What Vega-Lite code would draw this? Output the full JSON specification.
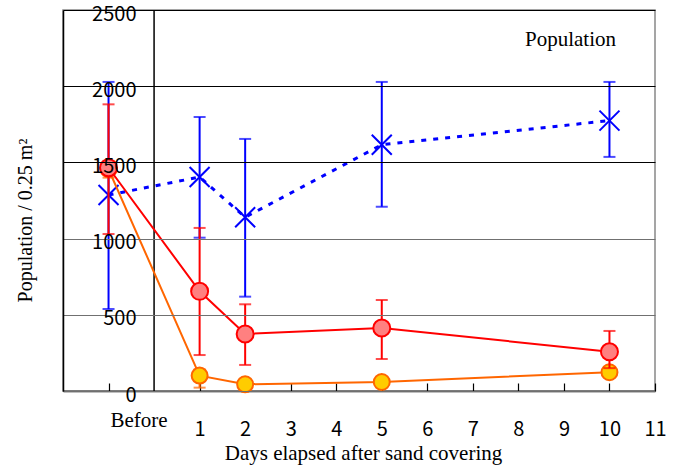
{
  "$schema": "https://vega.github.io/schema/vega-lite/v6.json",
  "width": 592,
  "height": 381,
  "autosize": {"type": "none"},
  "padding": {"left": 63, "top": 10, "right": 26, "bottom": 79},
  "background": "white",
  "config": {"view": {"stroke": "#888", "strokeWidth": 1.5}},
  "title": {"text": "Population", "anchor": "end", "frame": "group", "orient": "top", "offset": -36, "baseline": "alphabetic", "dx": -39, "dy": 27, "font": "Liberation Serif", "fontSize": 21, "fontWeight": "normal", "color": "black"},
  "data": {"values": [
    {"s": "B", "x": -1, "y": 1286, "lo": 538, "hi": 2028},
    {"s": "B", "x": 1, "y": 1404, "lo": 1006, "hi": 1798},
    {"s": "B", "x": 2, "y": 1140, "lo": 619, "hi": 1654},
    {"s": "B", "x": 5, "y": 1616, "lo": 1209, "hi": 2028},
    {"s": "B", "x": 10, "y": 1774, "lo": 1536, "hi": 2028},
    {"s": "R", "x": -1, "y": 1465, "lo": 1030, "hi": 1881},
    {"s": "R", "x": 1, "y": 654, "lo": 236, "hi": 1070},
    {"s": "R", "x": 2, "y": 374, "lo": 171, "hi": 569},
    {"s": "R", "x": 5, "y": 413, "lo": 210, "hi": 597},
    {"s": "R", "x": 10, "y": 258, "lo": 150, "hi": 394},
    {"s": "O", "x": -1, "y": 1455, "lo": 1400, "hi": 1510},
    {"s": "O", "x": 1, "y": 101, "lo": 22, "hi": 142},
    {"s": "O", "x": 2, "y": 44, "lo": 20, "hi": 68},
    {"s": "O", "x": 5, "y": 59, "lo": 35, "hi": 83},
    {"s": "O", "x": 10, "y": 123, "lo": 100, "hi": 146}
  ]},
  "layer": [
    {
      "mark": {"type": "rule", "color": "black", "strokeWidth": 1.5},
      "data": {"values": [{"a": 1}]},
      "encoding": {"x": {"datum": 0, "type": "quantitative", "scale": {"domain": [-2, 11], "nice": false, "zero": false}}}
    },
    {
      "transform": [{"filter": "datum.s=='B'"}],
      "mark": {"type": "rule", "color": "#0000FF", "strokeWidth": 2},
      "encoding": {
        "x": {"field": "x", "type": "quantitative"},
        "y": {"field": "lo", "type": "quantitative"},
        "y2": {"field": "hi"}
      }
    },
    {
      "transform": [{"filter": "datum.s=='B'"}, {"fold": ["lo", "hi"], "as": ["k", "v"]}],
      "mark": {"type": "tick", "orient": "horizontal", "color": "#0000FF", "size": 12, "thickness": 2},
      "encoding": {
        "x": {"field": "x", "type": "quantitative"},
        "y": {"field": "v", "type": "quantitative"}
      }
    },
    {
      "transform": [{"filter": "datum.s=='B'"}],
      "mark": {"type": "line", "color": "#0000FF", "strokeWidth": 3, "strokeDash": [5, 7]},
      "encoding": {
        "x": {"field": "x", "type": "quantitative",
          "axis": {
            "title": "Days elapsed after sand covering", "titleFont": "Liberation Serif", "titleFontSize": 21, "titleFontWeight": "normal", "titleColor": "black",
            "titleX": 300, "titleY": 62, "titleBaseline": "middle", "titleAlign": "center",
            "values": [-1, 1, 2, 3, 4, 5, 6, 7, 8, 9, 10, 11],
            "labelExpr": "datum.value==-1?'Before':datum.label",
            "grid": false, "ticks": true, "tickSize": -8, "tickColor": "black", "tickWidth": 1.2,
            "domainColor": "black", "domainWidth": 1.5,
            "labelFont": {"condition": {"test": "datum.value==-1", "value": "Liberation Serif"}, "value": "Noto Sans CJK JP"},
            "labelFontSize": {"condition": {"test": "datum.value==-1", "value": 21}, "value": 20},
            "labelOffset": {"condition": {"test": "datum.value==-1", "value": 30}, "value": 0},
            "labelPadding": {"condition": {"test": "datum.value==-1", "value": 37}, "value": 46},
            "labelBaseline": "middle", "labelFlush": false, "labelOverlap": false, "labelColor": "black"
          }},
        "y": {"field": "y", "type": "quantitative", "scale": {"domain": [0, 2500], "nice": false},
          "axis": {
            "title": "Population / 0.25 m²", "titleFont": "Liberation Serif", "titleFontSize": 20, "titleFontWeight": "normal", "titleColor": "black",
            "titleX": -38, "titleY": 210, "titleAngle": -90, "titleBaseline": "middle", "titleAlign": "center",
            "values": [0, 500, 1000, 1500, 2000, 2500], "format": "d", "ticks": false, "labelPadding": -73,
            "labelFont": "Noto Sans CJK JP", "labelFontSize": 20, "labelColor": "black", "labelOffset": 4, "labelBaseline": "middle",
            "domainColor": "black", "domainWidth": 1.5, "grid": true,
            "gridColor": {"condition": {"test": "datum.value>=1500", "value": "black"}, "value": "#707070"},
            "gridWidth": 1.2, "zindex": 1, "labelFlush": false, "labelOverlap": false
          }}
      }
    },
    {
      "transform": [{"filter": "datum.s=='B'"}],
      "mark": {"type": "point", "shape": "M-1,-1L1,1M1,-1L-1,1", "size": 400, "filled": false, "stroke": "#0000FF", "strokeWidth": 2, "opacity": 1},
      "encoding": {
        "x": {"field": "x", "type": "quantitative"},
        "y": {"field": "y", "type": "quantitative"}
      }
    },
    {
      "transform": [{"filter": "datum.s=='O'"}],
      "mark": {"type": "rule", "color": "#FF6600", "strokeWidth": 2},
      "encoding": {
        "x": {"field": "x", "type": "quantitative"},
        "y": {"field": "lo", "type": "quantitative"},
        "y2": {"field": "hi"}
      }
    },
    {
      "transform": [{"filter": "datum.s=='O'"}, {"fold": ["lo", "hi"], "as": ["k", "v"]}],
      "mark": {"type": "tick", "orient": "horizontal", "color": "#FF6600", "size": 12, "thickness": 2},
      "encoding": {
        "x": {"field": "x", "type": "quantitative"},
        "y": {"field": "v", "type": "quantitative"}
      }
    },
    {
      "transform": [{"filter": "datum.s=='O'"}],
      "mark": {"type": "line", "color": "#FF6600", "strokeWidth": 2},
      "encoding": {
        "x": {"field": "x", "type": "quantitative"},
        "y": {"field": "y", "type": "quantitative"}
      }
    },
    {
      "transform": [{"filter": "datum.s=='O'"}],
      "mark": {"type": "point", "shape": "circle", "size": 256, "fill": "#FFCC00", "stroke": "#FF6600", "strokeWidth": 2, "opacity": 1, "fillOpacity": 1},
      "encoding": {
        "x": {"field": "x", "type": "quantitative"},
        "y": {"field": "y", "type": "quantitative"}
      }
    },
    {
      "transform": [{"filter": "datum.s=='R'"}],
      "mark": {"type": "rule", "color": "#FF0000", "strokeWidth": 2},
      "encoding": {
        "x": {"field": "x", "type": "quantitative"},
        "y": {"field": "lo", "type": "quantitative"},
        "y2": {"field": "hi"}
      }
    },
    {
      "transform": [{"filter": "datum.s=='R'"}, {"fold": ["lo", "hi"], "as": ["k", "v"]}],
      "mark": {"type": "tick", "orient": "horizontal", "color": "#FF0000", "size": 12, "thickness": 2},
      "encoding": {
        "x": {"field": "x", "type": "quantitative"},
        "y": {"field": "v", "type": "quantitative"}
      }
    },
    {
      "transform": [{"filter": "datum.s=='R'"}],
      "mark": {"type": "line", "color": "#FF0000", "strokeWidth": 2},
      "encoding": {
        "x": {"field": "x", "type": "quantitative"},
        "y": {"field": "y", "type": "quantitative"}
      }
    },
    {
      "transform": [{"filter": "datum.s=='R'"}],
      "mark": {"type": "point", "shape": "circle", "size": 289, "fill": "#FF8080", "stroke": "#FF0000", "strokeWidth": 2, "opacity": 1, "fillOpacity": 1},
      "encoding": {
        "x": {"field": "x", "type": "quantitative"},
        "y": {"field": "y", "type": "quantitative"}
      }
    }
  ]
}
